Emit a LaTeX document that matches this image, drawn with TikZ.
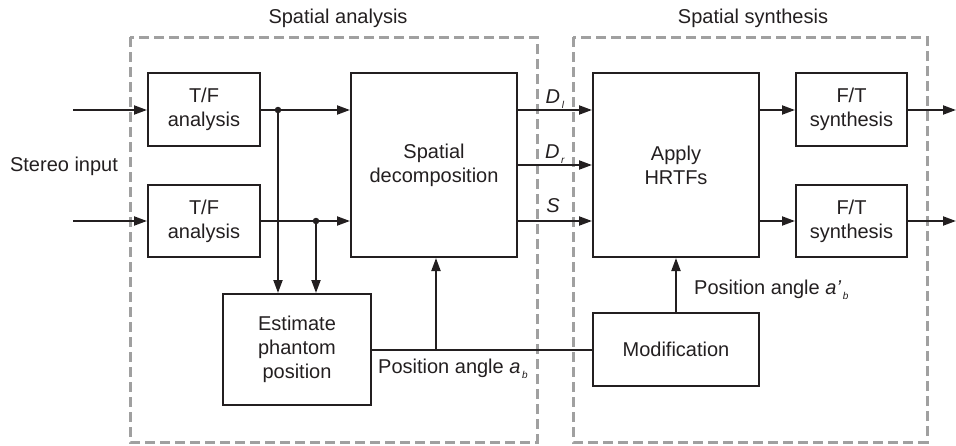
\documentclass[tikz,border=0pt]{standalone}
\usepackage{fontspec}
\setmainfont{Liberation Sans}
\usetikzlibrary{arrows.meta}
\definecolor{ink}{HTML}{231F20}
\definecolor{dashgray}{HTML}{A0A0A0}
\newcommand{\sbs}[1]{\raisebox{-0.5ex}{\fontsize{10}{10}\selectfont\,\textit{#1}}}
\begin{document}
\begin{tikzpicture}[x=1pt,y=-1pt,
  font=\fontsize{20}{24}\selectfont,
  blk/.style={draw=ink,line width=2pt,align=center,inner sep=0pt,text=ink},
  conn/.style={draw=ink,line width=2pt},
  arr/.style={conn,-{Triangle[length=13pt,width=9pt]}},
  grp/.style={draw=dashgray,line width=3pt,dash pattern=on 10pt off 5pt},
  jdot/.style={circle,fill=ink,inner sep=0pt,minimum size=6.5pt},
  lbl/.style={text=ink,inner sep=0pt}]
\useasboundingbox (0,0) rectangle (956,445);
% group boxes
\draw[grp] (130,37) rectangle (537,442);
\draw[grp] (573,37) rectangle (927,442);
\node[lbl] (ga) at (338,18) {Spatial analysis};
\node[lbl] (gs) at (753,18) {Spatial synthesis};
% blocks
\node[blk,minimum width=112pt,minimum height=73pt] (tf1) at (204,109.5) {T/F\\analysis};
\node[blk,minimum width=112pt,minimum height=72pt] (tf2) at (204,221) {T/F\\analysis};
\node[blk,minimum width=166pt,minimum height=184pt] (sd) at (434,165) {Spatial\\decomposition};
\node[blk,minimum width=148pt,minimum height=111pt] (est) at (297,349.5) {Estimate\\phantom\\position};
\node[blk,minimum width=166pt,minimum height=184pt] (hr) at (676,165) {Apply\\HRTFs};
\node[blk,minimum width=111pt,minimum height=73pt] (ft1) at (851.5,109.5) {F/T\\synthesis};
\node[blk,minimum width=111pt,minimum height=72pt] (ft2) at (851.5,221) {F/T\\synthesis};
\node[blk,minimum width=166pt,minimum height=73pt] (mod) at (676,349.5) {Modification};
% labels
\node[lbl] (si) at (64,166) {Stereo input};
% coordinates
\coordinate (in1) at (73,110);
\coordinate (in2) at (73,221);
\coordinate (j1) at (278,110);
\coordinate (j2) at (316,221);
\coordinate (j3) at (436,349.5);
\coordinate (o1) at (956,110);
\coordinate (o2) at (956,221);
% inputs
\draw[arr] (in1) -- (in1 -| tf1.west);
\draw[arr] (in2) -- (in2 -| tf2.west);
% TF to SD
\draw[arr] (j1 -| tf1.east) -- (j1 -| sd.west);
\draw[arr] (j2 -| tf2.east) -- (j2 -| sd.west);
\node[jdot] (d1) at (j1) {};
\node[jdot] (d2) at (j2) {};
\draw[arr] (j1) -- (j1 |- est.north);
\draw[arr] (j2) -- (j2 |- est.north);
% position angle
\draw[conn] (est.east |- j3) -- (mod.west |- j3);
\draw[arr] (j3) -- (j3 |- sd.south);
\node[lbl,anchor=base west] (pa) at (378,373) {Position angle \textit{a}\sbs{b}};
% SD to HR
\coordinate (c1) at (0,110);
\coordinate (c2) at (0,165);
\coordinate (c3) at (0,221);
\draw[arr] (c1 -| sd.east) -- (c1 -| hr.west);
\draw[arr] (c2 -| sd.east) -- (c2 -| hr.west);
\draw[arr] (c3 -| sd.east) -- (c3 -| hr.west);
\node[lbl,anchor=base] (ldl) at (555,103) {\textit{D}\sbs{l}};
\node[lbl,anchor=base] (ldr) at (555,158) {\textit{D}\sbs{r}};
\node[lbl,anchor=base] (ls) at (553,212) {\textit{S}};
% HR to FT
\draw[arr] (c1 -| hr.east) -- (c1 -| ft1.west);
\draw[arr] (c3 -| hr.east) -- (c3 -| ft2.west);
\draw[arr] (ft1.east |- o1) -- (o1);
\draw[arr] (ft2.east |- o2) -- (o2);
% modification to HR
\draw[arr] (mod.north) -- (hr.south);
\node[lbl,anchor=base west] (pa2) at (694,294) {Position angle \textit{a’}\sbs{b}};
\end{tikzpicture}
\end{document}
